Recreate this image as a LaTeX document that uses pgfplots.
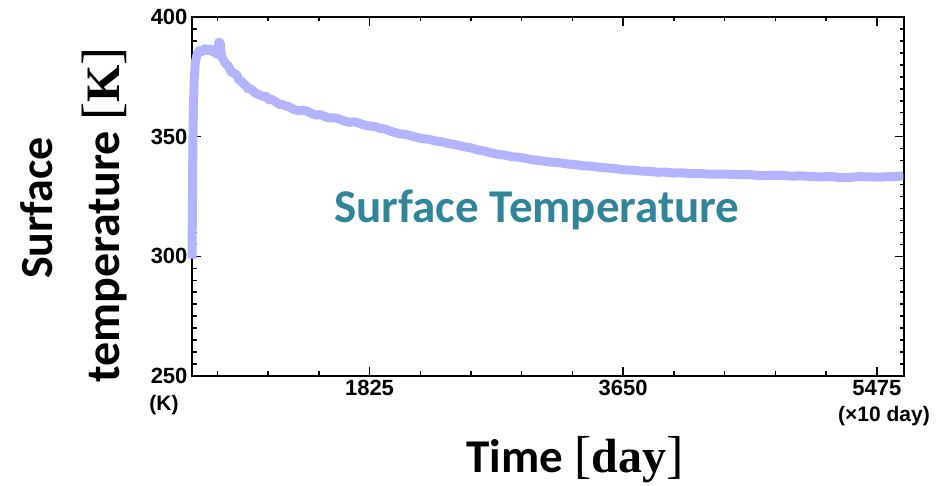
\documentclass[border=0pt]{standalone}
\usepackage{pgfplots}
\pgfplotsset{compat=1.18}
\usepackage{fontspec}
\setmainfont{Carlito}
\newfontfamily\tickfont{Liberation Sans}
\newfontfamily\seriffont{Liberation Serif}
\definecolor{lav}{RGB}{179,179,255}
\definecolor{teal2}{RGB}{49,133,155}
\pgfplotstableread{
t T
548 299
551 320
554 345
558 362
564 374
572 381
585 384.5
600 386
620 385.5
640 386.8
660 386
680 386.6
700 385.2
715 386.5
725 384.5
735 385
742 389.5
752 389
758 384
770 382.5
790 380.5
810 379.5
830 377
850 376.5
870 375.8
887 373.5
905 373.2
920 372
935 371.4
950 370
965 370.2
980 369.5
1005 368.2
1031 367.5
1060 366.8
1080 366.9
1100 365.5
1120 365.6
1140 365
1160 364.2
1176 363.5
1200 363.4
1220 362.8
1240 362.7
1260 362
1290 361.2
1320 360.8
1350 361.0
1380 360.5
1410 359.6
1440 359
1470 359.2
1500 358.5
1536 357.8
1570 357.9
1600 357.5
1640 356.6
1680 356
1715 356.2
1752 355.6
1785 354.9
1820 354.5
1860 354.3
1900 353.5
1935 353.2
1970 352.4
2005 351.8
2041 351.2
2080 351.0
2120 350.4
2160 349.8
2200 349.2
2250 348.9
2300 348.2
2350 347.8
2402 347
2450 346.6
2500 345.8
2550 345.4
2600 344.5
2650 344.0
2700 343.2
2762 342.5
2800 342.3
2850 341.6
2900 341.4
2950 340.9
3000 340.3
3050 340
3123 339.4
3180 339.2
3250 338.6
3310 338.3
3370 337.8
3430 337.6
3484 337.2
3540 336.9
3600 336.6
3660 336.1
3720 336
3780 335.6
3844 335.5
3900 335.1
3950 335.2
4010 334.8
4080 334.9
4140 334.5
4205 334.6
4280 334.3
4350 334.4
4450 334.2
4566 334.1
4630 333.7
4700 333.8
4800 333.8
4860 333.5
4926 333.6
5000 333.4
5050 333.2
5150 333.3
5220 332.9
5287 333
5340 333.3
5400 333.2
5500 333.1
5560 333.3
5600 333.4
5665 333.5
}\datatable
\begin{document}
\begin{tikzpicture}[x=1pt,y=1pt]
\path[use as bounding box] (0,0) rectangle (937,486);
\begin{axis}[
  at={(192pt,110pt)}, anchor=south west,
  scale only axis, width=712pt, height=359pt,
  xmin=548, xmax=5670, ymin=250, ymax=400,
  clip=false,
  axis line style={line width=2pt},
  xtick={1825,3650,5475},
  minor xtick={730,1095,1460,2190,2555,2920,3285,4015,4380,4745,5110},
  ytick={250,300,350,400},
  minor ytick={255,260,...,395},
  tick align=inside,
  major tick length=9pt, minor tick length=4.5pt,
  every tick/.style={black, line width=1.5pt},
  /pgf/number format/assume math mode=true,
  /pgf/number format/1000 sep={},
  tick label style={font=\tickfont\bfseries\fontsize{22}{24}\selectfont},
  yticklabel style={xshift=-1pt},
  xticklabel style={yshift=-1pt},
]
\addplot[lav, line width=9pt, line join=round] table[x=t,y=T] {\datatable};
\end{axis}
\node[font=\tickfont\bfseries\fontsize{21}{22}\selectfont] at (164,81) {(K)};
\node[font=\tickfont\bfseries\fontsize{21}{22}\selectfont] at (884,70) {(×10 day)};
\node[rotate=90, anchor=base, font=\bfseries\fontsize{46}{48}\selectfont] at (53,278) {Surface};
\node[rotate=90, anchor=base, font=\bfseries\fontsize{48}{50}\selectfont] at (119,271) {temperature {\seriffont\mdseries\fontsize{54}{54}\selectfont[\textbf{\fontsize{48}{50}\selectfont K}]}};
\node[anchor=base, font=\bfseries\fontsize{47}{50}\selectfont] at (575,13) {Time {\seriffont\mdseries\fontsize{52}{52}\selectfont[\textbf{\fontsize{48}{50}\selectfont day}]}};
\node[anchor=base, font=\bfseries\fontsize{47}{50}\selectfont, text=teal2] at (537,263) {Surface Temperature};
\end{tikzpicture}
\end{document}
